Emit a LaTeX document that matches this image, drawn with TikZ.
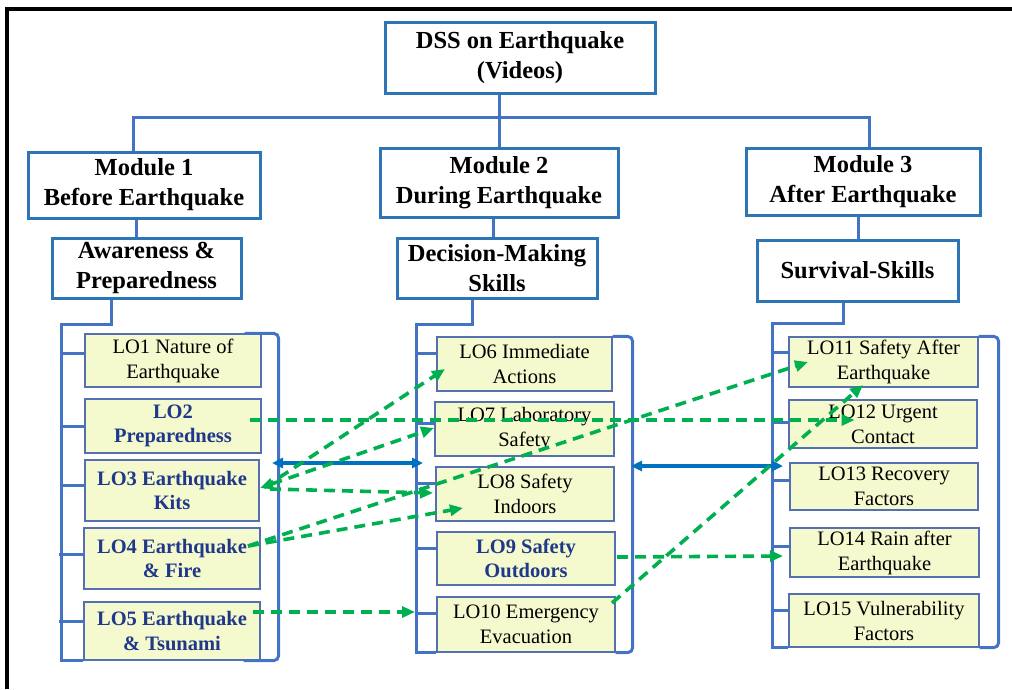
\documentclass[tikz,border=0pt]{standalone}
\usepackage{fontspec}
\setmainfont{Liberation Serif}
\usetikzlibrary{arrows.meta}

\definecolor{boxblue}{RGB}{46,117,182}
\definecolor{treeblue}{RGB}{68,114,196}
\definecolor{loedge}{RGB}{84,112,176}
\definecolor{lofill}{RGB}{245,249,206}
\definecolor{lonavy}{RGB}{31,56,138}
\definecolor{linkgreen}{RGB}{0,176,80}
\definecolor{arrowblue}{RGB}{0,112,192}

\begin{document}
\begin{tikzpicture}[x=1pt, y=-1pt,
  headbox/.style={draw=boxblue, line width=3pt, fill=white, align=center, inner sep=0pt,
    font=\bfseries\fontsize{24.5}{30}\selectfont},
  lobox/.style={draw=loedge, line width=1.3pt, fill=lofill, align=center, inner sep=0pt,
    font=\fontsize{20.5}{25}\selectfont},
  lobold/.style={lobox, text=lonavy, font=\bfseries\fontsize{20.5}{24.5}\selectfont},
  tree/.style={draw=treeblue, line width=3pt},
  link/.style={draw=linkgreen, line width=3.6pt, dash pattern=on 11pt off 7pt,
    -{Triangle[length=13pt,width=11pt]}},
  both/.style={draw=arrowblue, line width=3.4pt,
    {Triangle[length=11pt,width=10pt]}-{Triangle[length=11pt,width=10pt]}}]
  \useasboundingbox (0,0) rectangle (1012,689);
  \draw[line width=3.5pt] (7,689) -- (7,9) -- (1012,9);

  % headings
  \node[headbox, minimum width=270pt, minimum height=71pt] (top) at (520,57.5) {DSS on Earthquake\\(Videos)};
  \node[headbox, minimum width=232pt, minimum height=66pt] (mod1) at (144,185) {Module 1\\Before Earthquake};
  \node[headbox, minimum width=238pt, minimum height=69pt] (mod2) at (499,182.5) {Module 2\\During Earthquake};
  \node[headbox, minimum width=234pt, minimum height=67pt] (mod3) at (863,181.5) {Module 3\\After Earthquake};
  \node[headbox, minimum width=189pt, minimum height=60pt] (aw) at (146.5,268) {Awareness \&\\Preparedness};
  \node[headbox, minimum width=200pt, minimum height=60pt] (dm) at (497,268) {Decision-Making\\Skills};
  \node[headbox, minimum width=201pt, minimum height=61pt] (sv) at (857.5,270.5) {Survival-Skills};

  % learning outcomes
  \node[lobox, minimum width=176pt, minimum height=53pt] (lo1) at (173,360.5) {LO1 Nature of\\Earthquake};
  \node[lobold, minimum width=176pt, minimum height=54pt] (lo2) at (173,426) {LO2\\Preparedness};
  \node[lobold, minimum width=174pt, minimum height=61pt] (lo3) at (172,490.5) {LO3 Earthquake\\Kits};
  \node[lobold, minimum width=176pt, minimum height=61pt] (lo4) at (172,558.5) {LO4 Earthquake\\\& Fire};
  \node[lobold, minimum width=176pt, minimum height=58pt] (lo5) at (172,631) {LO5 Earthquake\\\& Tsunami};

  \node[lobox, minimum width=175pt, minimum height=54pt] (lo6) at (524.5,364) {LO6 Immediate\\Actions};
  \node[lobox, minimum width=179pt, minimum height=54pt] (lo7) at (524.5,429) {LO7 Laboratory\\Safety};
  \node[lobox, minimum width=178pt, minimum height=54pt] (lo8) at (525,494) {LO8 Safety\\Indoors};
  \node[lobold, minimum width=178pt, minimum height=53pt] (lo9) at (526,558.5) {LO9 Safety\\Outdoors};
  \node[lobox, minimum width=178pt, minimum height=55pt] (lo10) at (526,624.5) {LO10 Emergency\\Evacuation};

  \node[lobox, minimum width=189pt, minimum height=50pt] (lo11) at (883.5,362) {LO11 Safety After\\Earthquake};
  \node[lobox, minimum width=188pt, minimum height=48pt] (lo12) at (883,424) {LO12 Urgent\\Contact};
  \node[lobox, minimum width=188pt, minimum height=47pt] (lo13) at (884,486.5) {LO13 Recovery\\Factors};
  \node[lobox, minimum width=189pt, minimum height=49pt] (lo14) at (884.5,552.5) {LO14 Rain after\\Earthquake};
  \node[lobox, minimum width=190pt, minimum height=53pt] (lo15) at (884,620.5) {LO15 Vulnerability\\Factors};

  % tree
  \coordinate (busL) at (133,117);
  \coordinate (busR) at (869,117);
  \coordinate (stem1) at (136,0);
  \coordinate (stem2) at (493,0);
  \coordinate (stem3) at (858,0);
  \draw[tree] (top.south -| mod2.north) -- (mod2.north);
  \draw[tree] (busL |- mod1.north) -- (busL) -- (busR) -- (busR |- mod3.north);
  \draw[tree] (stem1 |- mod1.south) -- (stem1 |- aw.north);
  \draw[tree] (stem2 |- mod2.south) -- (stem2 |- dm.north);
  \draw[tree] (stem3 |- mod3.south) -- (stem3 |- sv.north);

  \coordinate (trunk1) at (61,324);
  \coordinate (drop1) at (111,0);
  \draw[tree] (drop1 |- aw.south) |- (trunk1) -- (trunk1 |- lo5.south) -- (lo5.south west);
  \draw[tree] ([yshift=7pt]lo1.west) -- +(-24,0);
  \draw[tree] (lo2.west) -- +(-24,0);
  \draw[tree] ([yshift=5pt]lo3.west) -- +(-24,0);
  \draw[tree] ([yshift=4pt]lo4.west) -- +(-24,0);
  \draw[tree] ([yshift=10pt]lo5.west) -- +(-24,0);
  \draw[tree, rounded corners=5pt] ([xshift=-17pt]lo1.north east) -- ++(34,0) |- ([xshift=-17pt]lo5.south east);

  \coordinate (trunk2) at (416,324);
  \coordinate (drop2) at (472,0);
  \draw[tree] (drop2 |- dm.south) |- (trunk2) -- (trunk2 |- lo10.south) -- (lo10.south west);
  \draw[tree] ([yshift=11pt]lo6.west) -- +(-21,0);
  \draw[tree] ([yshift=6pt]lo7.west) -- +(-19,0);
  \draw[tree] ([yshift=11pt]lo8.west) -- +(-20,0);
  \draw[tree] ([yshift=10pt]lo9.west) -- +(-21,0);
  \draw[tree] ([yshift=11pt]lo10.west) -- +(-21,0);
  \draw[tree, rounded corners=5pt] (lo6.north east) -- ++(20,0) |- (lo10.south east);

  \coordinate (trunk3) at (772,323);
  \coordinate (drop3) at (843,0);
  \draw[tree] (drop3 |- sv.south) |- (trunk3) -- (trunk3 |- lo15.south) -- (lo15.south west);
  \draw[tree] ([yshift=10pt]lo11.west) -- +(-17,0);
  \draw[tree] ([yshift=2pt]lo12.west) -- +(-17,0);
  \draw[tree] ([yshift=6pt]lo13.west) -- +(-18,0);
  \draw[tree] ([yshift=6pt]lo14.west) -- +(-18,0);
  \draw[tree] ([yshift=10pt]lo15.west) -- +(-17,0);
  \draw[tree, rounded corners=5pt] (lo11.north east) -- ++(20,0) |- (lo15.south east);

  % module links
  \coordinate (l2m) at (272,463);
  \coordinate (m2l) at (423,463);
  \coordinate (m2r) at (631,466);
  \coordinate (r2m) at (783,466);
  \draw[both] (l2m) -- (m2l);
  \draw[both] (m2r) -- (r2m);

  % outcome links
  \draw[link] ([shift={(77,-6)}]lo2.center) -- ([shift={(-28.5,-4)}]lo12.center);
  \draw[link] ([shift={(92,-3)}]lo3.center) -- ([shift={(-79.5,5)}]lo6.center);
  \draw[link, {Triangle[length=13pt,width=11pt]}-{Triangle[length=13pt,width=11pt]}] ([shift={(88,-2.5)}]lo3.center) -- ([shift={(-90.5,-1)}]lo7.center);
  \draw[link] ([shift={(98,-1.5)}]lo3.center) -- ([shift={(-92,-1)}]lo8.center);
  \draw[link] ([shift={(76,-12.5)}]lo4.center) -- ([shift={(-62,14)}]lo8.center);
  \draw[link] ([shift={(76,-12.5)}]lo4.center) -- ([shift={(-75.5,0)}]lo11.center);
  \draw[link] ([shift={(81,-19)}]lo5.center) -- ([shift={(-111,-12.5)}]lo10.center);
  \draw[link] ([shift={(91,-1.5)}]lo9.center) -- ([shift={(-101.5,3.5)}]lo14.center);
  \draw[link] ([shift={(86,-21.5)}]lo10.center) -- ([shift={(-20.5,23)}]lo11.center);
\end{tikzpicture}
\end{document}
